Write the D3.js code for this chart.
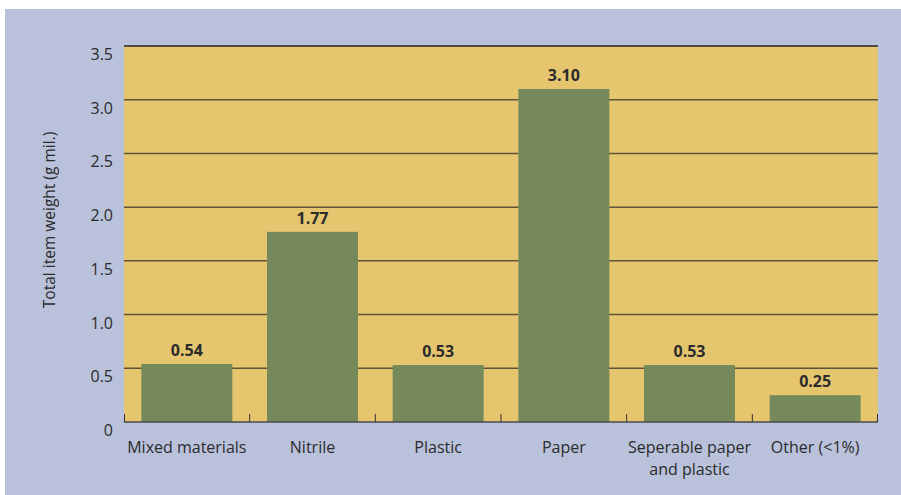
<!DOCTYPE html>
<html>
<head>
<meta charset="utf-8">
<script src="https://cdn.jsdelivr.net/npm/d3@7"></script>
<style>
body{margin:0;background:#fff;}
text{font-family:"Open Sans","DejaVu Sans",sans-serif;fill:#2b2b2b;}
</style>
</head>
<body>
<div id="chart"></div>
<script>
var categories = ["Mixed materials","Nitrile","Plastic","Paper","Seperable paper\nand plastic","Other (<1%)"];
var weights = [0.54,1.77,0.53,3.10,0.53,0.25];
var yTicks = [0,0.5,1.0,1.5,2.0,2.5,3.0,3.5];
var yTitle = "Total item weight (g mil.)";

var W = 901, H = 495;
var margin = {top: 46, right: 23, bottom: 73, left: 124},
	width = W - margin.left - margin.right,
	height = H - margin.top - margin.bottom;

var svg = d3.select("#chart").append("svg")
	.attr("width", W)
	.attr("height", H);

// blue panel
svg.append("rect")
	.attr("x",5).attr("y",9)
	.attr("width",W-5).attr("height",H-9)
	.style("fill","#b9c1db");

var g = svg.append("g")
	.attr("transform","translate(" + margin.left + "," + margin.top + ")");

var x = d3.scaleBand().domain(categories).range([0,width]).paddingInner(0.276).paddingOuter(0.138);
var y = d3.scaleLinear().domain([0,3.5]).range([height,0]);

g.append("rect")
	.attr("width",width).attr("height",height)
	.style("fill","#e5c66f");

// gridlines
g.selectAll(".grid")
	.data(yTicks.filter(function(d){return d>0;}))
	.enter().append("line")
	.attr("x1",0).attr("x2",width)
	.attr("y1",function(d){return y(d);})
	.attr("y2",function(d){return y(d);})
	.style("stroke",function(d){return d==3.5 ? "#222" : "#5e5336";})
	.style("stroke-width",1.5);

// y labels (sit a bit below the lines)
g.selectAll(".ylab")
	.data(yTicks)
	.enter().append("text")
	.attr("x",-11)
	.attr("y",function(d){return y(d)+14;})
	.attr("text-anchor","end")
	.style("font-size","16px")
	.text(function(d){return d==0 ? "0" : d3.format(".1f")(d);});

// bars
g.selectAll(".bar")
	.data(weights)
	.enter().append("rect")
	.attr("x",function(d,i){return x(categories[i]);})
	.attr("width",x.bandwidth())
	.attr("y",function(d){return y(d);})
	.attr("height",function(d){return height-y(d);})
	.style("fill","#76895a");

g.selectAll(".val")
	.data(weights)
	.enter().append("text")
	.attr("x",function(d,i){return x(categories[i])+x.bandwidth()/2;})
	.attr("y",function(d){return y(d)-8;})
	.attr("text-anchor","middle")
	.style("font-size","16px")
	.style("font-weight","bold")
	.text(function(d){return d3.format(".2f")(d);});

// x axis line and inside ticks
g.append("line")
	.attr("x1",0).attr("x2",width)
	.attr("y1",height).attr("y2",height)
	.style("stroke","#4a4a4a").style("stroke-width",1.5);

var step = width/categories.length;
g.selectAll(".tick")
	.data(d3.range(categories.length+1))
	.enter().append("line")
	.attr("x1",function(i){return Math.min(Math.max(i*step,0.5),width-0.5);})
	.attr("x2",function(i){return Math.min(Math.max(i*step,0.5),width-0.5);})
	.attr("y1",height).attr("y2",height-8)
	.style("stroke","#333").style("stroke-width",1);

// category labels
g.selectAll(".xlab")
	.data(categories)
	.enter().append("text")
	.attr("text-anchor","middle")
	.attr("transform",function(d){return "translate(" + (x(d)+x.bandwidth()/2) + "," + (height+31) + ")";})
	.style("font-size","16px")
	.each(function(d){
		var t = d3.select(this);
		d.split("\n").forEach(function(s,k){
			t.append("tspan").attr("x",0).attr("dy",k==0 ? 0 : 22).text(s);
		});
	});

svg.append("text")
	.attr("text-anchor","middle")
	.attr("transform","translate(55,220)rotate(-90)")
	.style("font-size","15.5px")
	.text(yTitle);
</script>
</body>
</html>
